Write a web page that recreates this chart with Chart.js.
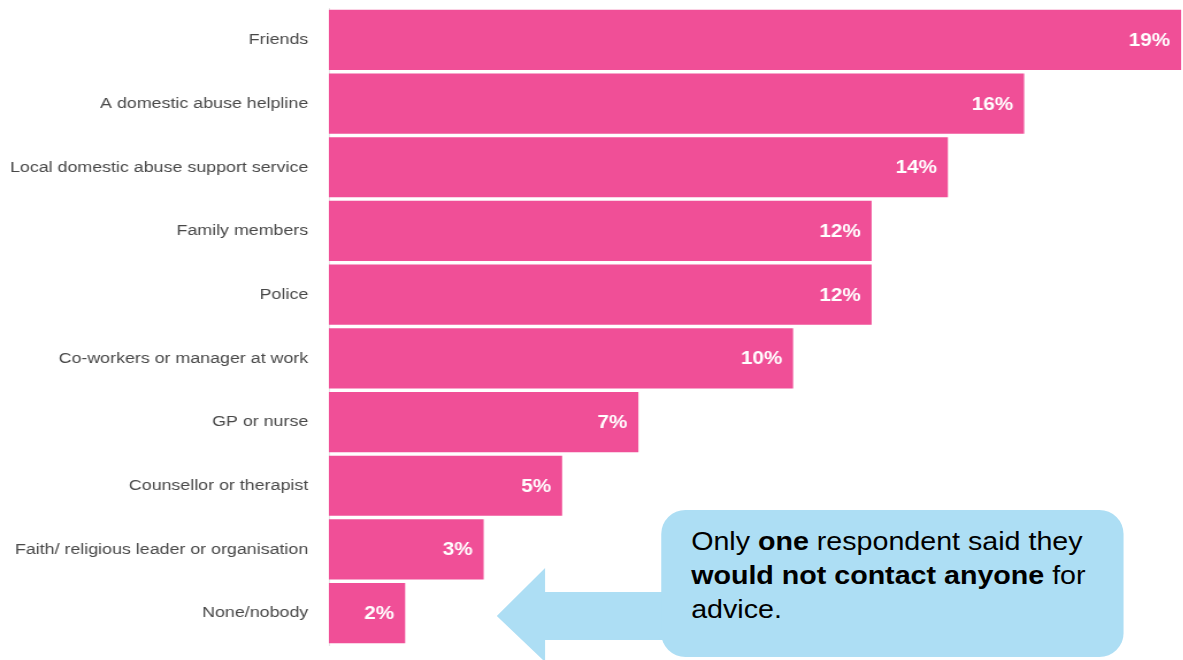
<!DOCTYPE html>
<html>
<head>
<meta charset="utf-8">
<script src="https://cdn.jsdelivr.net/npm/chart.js@4"></script>
<style>
    body { margin: 0; background: #fff; overflow: hidden; }
    /* the slide is laid out at 1029px and stretched to 1183px */
    #wrap {
        position: relative; width: 1029px; height: 660px;
        transform: scaleX(1.15); transform-origin: 0 0;
    }
    #callout {
        position: absolute; left: 575px; top: 510px; width: 402px; height: 147px;
        box-sizing: border-box; padding: 14px 10px 0 26px;
        background: #addef4; border-radius: 21px / 24px;
        font-family: "Liberation Sans", Arial, sans-serif; font-size: 24.9px; line-height: 34px;
        color: #000;
    }
    #arrow { position: absolute; left: 0; top: 0; }
</style>
</head>
<body>
<div id="wrap">
    <canvas id="newChart"></canvas>
    <svg id="arrow" width="1029" height="660">
        <polygon points="432,616 474,568 474,592 583,592 583,640 474,640 474,662" fill="#addef4"/>
    </svg>
    <div id="callout">Only <b>one</b> respondent said they <b>would not contact anyone</b> for advice.</div>
</div>
<script>
let ctx = document.getElementById("newChart");

const sources = [
    "Friends",
    "A domestic abuse helpline",
    "Local domestic abuse support service",
    "Family members",
    "Police",
    "Co-workers or manager at work",
    "GP or nurse",
    "Counsellor or therapist",
    "Faith/ religious leader or organisation",
    "None/nobody",
];
const percentages = [19.0, 15.5, 13.8, 12.1, 12.1, 10.35, 6.9, 5.2, 3.45, 1.7];

// white % label inside the end of each bar
const barLabels = {
    id: "barLabels",
    afterDatasetsDraw(chart) {
        const c = chart.ctx;
        const meta = chart.getDatasetMeta(0);
        c.save();
        c.fillStyle = "#ffffff";
        c.font = "bold 18px 'Liberation Sans', Arial, sans-serif";
        c.textAlign = "right";
        c.textBaseline = "middle";
        meta.data.forEach((bar, i) => {
            c.fillText(Math.round(percentages[i]) + "%", bar.x - 9.5, bar.y + 1);
        });
        c.restore();
    },
};

const displayChart = new Chart(ctx, {
    type: "bar",
    data: {
        labels: sources,
        datasets: [
            {
                data: percentages,
                backgroundColor: "#f04f97",
                borderWidth: 0,
                barPercentage: 0.945,
                categoryPercentage: 1,
            },
        ],
    },
    options: {
        indexAxis: "y",
        responsive: true,
        maintainAspectRatio: false,
        animation: false,
        layout: { padding: { top: 8, bottom: 15, right: 0, left: 0 } },
        scales: {
            x: {
                display: false,
                min: 0,
                max: 19.05,
            },
            y: {
                afterFit: (scale) => {
                    scale.width = 286;
                    scale.paddingTop = 0;
                    scale.paddingBottom = 0;
                },
                grid: { display: false, drawTicks: false },
                border: { display: true, color: "#e6e6e6", width: 1 },
                ticks: {
                    padding: 18,
                    color: "#484848",
                    font: { family: "'Liberation Sans', Arial, sans-serif", size: 15.5 },
                },
            },
        },
        plugins: {
            legend: { display: false },
            tooltip: { enabled: false },
        },
    },
    plugins: [barLabels],
});
</script>
</body>
</html>
